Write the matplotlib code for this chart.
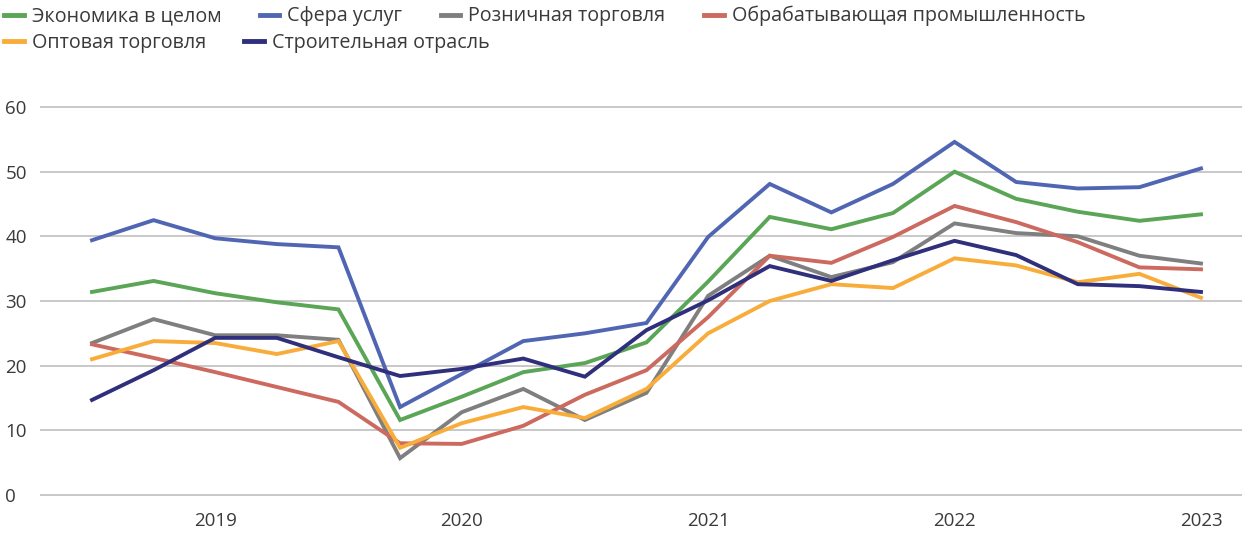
import numpy as np
import matplotlib
matplotlib.use('Agg')
from matplotlib import pyplot as plt

# quarterly points, Q2 2018 .. Q2 2023
quarters = ['2018Q2', '2018Q3', '2018Q4', '2019Q1', '2019Q2', '2019Q3', '2019Q4',
            '2020Q1', '2020Q2', '2020Q3', '2020Q4', '2021Q1', '2021Q2', '2021Q3',
            '2021Q4', '2022Q1', '2022Q2', '2022Q3', '2022Q4']
year_labels = ['2019', '2020', '2021', '2022', '2023']
year_pos = [2, 6, 10, 14, 18]

economy = [31.4, 33.1, 31.2, 29.8, 28.7, 11.6, 15.2, 19.0, 20.4, 23.6,
           33.0, 43.0, 41.1, 43.6, 50.0, 45.8, 43.8, 42.4, 43.4]
services = [39.4, 42.5, 39.7, 38.8, 38.3, 13.6, 18.7, 23.8, 25.0, 26.6,
            39.9, 48.1, 43.7, 48.1, 54.6, 48.4, 47.4, 47.6, 50.5]
retail = [23.5, 27.2, 24.7, 24.7, 24.0, 5.7, 12.8, 16.4, 11.6, 15.8,
          30.8, 37.0, 33.7, 36.0, 42.0, 40.5, 40.0, 37.0, 35.8]
manufacturing = [23.3, 21.2, 19.0, 16.7, 14.4, 8.0, 7.9, 10.7, 15.5, 19.3,
                 27.5, 37.0, 35.9, 39.9, 44.7, 42.2, 39.1, 35.2, 34.9]
wholesale = [21.0, 23.8, 23.5, 21.8, 23.8, 7.3, 11.1, 13.6, 11.9, 16.4,
             25.0, 30.0, 32.6, 32.0, 36.6, 35.5, 32.9, 34.2, 30.5]
construction = [14.7, 19.3, 24.3, 24.3, 21.3, 18.4, 19.5, 21.1, 18.3, 25.5,
                30.1, 35.4, 33.1, 36.3, 39.3, 37.1, 32.6, 32.3, 31.4]

series = [
    ('Экономика в целом', economy, '#5aa556'),
    ('Сфера услуг', services, '#5166b3'),
    ('Розничная торговля', retail, '#7f7f7f'),
    ('Обрабатывающая промышленность', manufacturing, '#cc6a60'),
    ('Оптовая торговля', wholesale, '#f8ad3a'),
    ('Строительная отрасль', construction, '#2f2f7c'),
]

plt.rcParams['font.family'] = ['Open Sans', 'DejaVu Sans']
txt = '#3a3a3a'
fs = 14.2

W, H = 1242, 533
fig = plt.figure(figsize=(W/100, H/100), dpi=100)
ax = fig.add_axes([40/W, (H-500)/H, (W-40)/W, 400/H])

x = np.arange(len(quarters))
handles = []
for name, vals, col in series:
    h, = ax.plot(x, vals, color=col, lw=2.8, label=name, clip_on=False,
                 solid_joinstyle='miter')
    handles.append(h)

ax.set_xlim(-52/61.6, 18 + 41/61.6)
ax.set_ylim(-5/6.467, 60 + 7/6.467)
ax.set_yticks(range(0, 61, 10))
ax.set_xticks(year_pos)
ax.set_xticklabels(year_labels)
ax.grid(axis='y', color='#c4c4c4', lw=1.3)
ax.set_axisbelow(True)
for s in ax.spines.values():
    s.set_visible(False)
ax.tick_params(axis='y', length=0, pad=25, labelsize=13.5, labelcolor=txt)
ax.tick_params(axis='x', length=0, pad=9, labelsize=13.5, labelcolor=txt)
for lab in ax.get_yticklabels():
    lab.set_horizontalalignment('left')

leg_kw = dict(frameon=False, fontsize=fs, handlelength=1.0, handletextpad=0.4,
              columnspacing=1.95, borderaxespad=0, borderpad=0, labelcolor=txt)
leg1 = fig.legend(handles=handles[:4], ncol=4, loc='upper left',
                  bbox_to_anchor=(4/W, 1 - 6/H), **leg_kw)
leg2 = fig.legend(handles=handles[4:], ncol=2, loc='upper left',
                  bbox_to_anchor=(4/W, 1 - 33/H), **leg_kw)
for leg in (leg1, leg2):
    for ln in leg.get_lines():
        ln.set_linewidth(3.5)

fig.savefig('out.png', dpi=100)
